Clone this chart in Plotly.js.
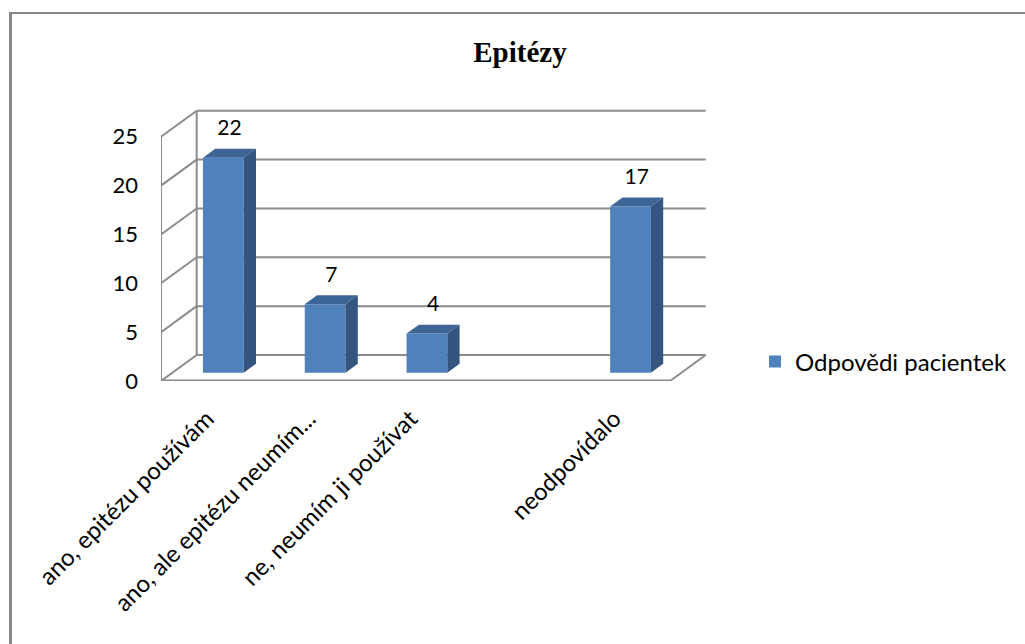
<!DOCTYPE html>
<html>
<head>
<meta charset="utf-8">
<script src="https://cdn.plot.ly/plotly-3.0.1.min.js"></script>
<style>
  html, body { margin: 0; padding: 0; background: #ffffff; }
  #chart { width: 1025px; height: 644px; }
</style>
</head>
<body>
<div id="chart"></div>
<script>
// ---- data ----
const categories = ["ano, epitézu používám", "ano, ale epitézu neumím...", "ne, neumím ji používat", "", "neodpovídalo"];
const responses = [22, 7, 4, null, 17];
const seriesName = "Odpovědi pacientek";
const yTicks = [0, 5, 10, 15, 20, 25];
const chartTitle = "Epitézy";

// ---- figure geometry (pixels) ----
const W = 1025, H = 644;
const plotLeft = 161, plotRight = 708, plotBottom = 381, plotTop = 105;
const pxPerCat = 101.8, pxPerUnit = 9.77;
const depthX = 35.7, depthY = 26;            // pseudo-3D depth of the walls
const ddx = depthX / pxPerCat, ddy = depthY / pxPerUnit;
const xMin = -0.5, xMax = xMin + (plotRight - plotLeft) / pxPerCat;
const yMax = (plotBottom - plotTop) / pxPerUnit;
const nCat = categories.length;
const yTop = yTicks[yTicks.length - 1];

// bar placement inside the depth of the floor
const barFront = 0.32, barBack = 0.665, barWidth = 0.4;
const colFront = "#4F81BD", colTop = "#3D6595", colSide = "#34557F";
const wallColor = "#8C8C8C";

const idx = categories.map((_, i) => i);
const baseFront = barFront * ddy;
const shiftFront = barFront * ddx;
const bdx = (barBack - barFront) * ddx, bdy = (barBack - barFront) * ddy;

// front faces
const frontTrace = {
  type: "bar",
  name: seriesName,
  x: idx.map(i => i + shiftFront),
  y: responses,
  base: responses.map(() => baseFront),
  width: barWidth,
  marker: { color: colFront, line: { width: 0 } },
  hoverinfo: "skip",
  showlegend: true
};

// top and side faces as filled polygons
const topX = [], topY = [], sideX = [], sideY = [];
responses.forEach((v, i) => {
  if (v === null) return;
  const x0 = i + shiftFront - barWidth / 2, x1 = i + shiftFront + barWidth / 2;
  const yt = baseFront + v;
  topX.push(x0, x1, x1 + bdx, x0 + bdx, x0, null);
  topY.push(yt, yt, yt + bdy, yt + bdy, yt, null);
  sideX.push(x1, x1 + bdx, x1 + bdx, x1, x1, null);
  sideY.push(baseFront, baseFront + bdy, yt + bdy, yt, baseFront, null);
});
const faceTrace = (xs, ys, col) => ({
  type: "scatter", mode: "lines", x: xs, y: ys,
  fill: "toself", fillcolor: col, line: { width: 0, color: col },
  hoverinfo: "skip", showlegend: false, connectgaps: false
});

// value labels above each column
const lblX = [], lblY = [], lblT = [];
responses.forEach((v, i) => {
  if (v === null) return;
  lblX.push(i + shiftFront + bdx / 2);
  lblY.push(baseFront + v + 28 / pxPerUnit);
  lblT.push(String(v));
});
const labelTrace = {
  type: "scatter", mode: "text", x: lblX, y: lblY, text: lblT,
  textposition: "middle center",
  textfont: { family: "Lato, sans-serif", size: 21, color: "#000000" },
  cliponaxis: false, hoverinfo: "skip", showlegend: false
};

// walls and floor
const shapes = [];
const seg = (x0, y0, x1, y1, w, c) => shapes.push({
  type: "line", xref: "x", yref: "y", x0, y0, x1, y1, layer: "below",
  line: { color: c || wallColor, width: w || 2 }
});
yTicks.forEach(v => {
  seg(xMin + ddx, v + ddy, xMin + nCat + ddx, v + ddy);   // back wall gridline
  seg(xMin, v, xMin + ddx, v + ddy);                        // side wall gridline
});
seg(xMin, 0, xMin, yTop);                                   // front left edge
seg(xMin + ddx, ddy, xMin + ddx, yTop + ddy);               // back left edge
seg(xMin + nCat, 0, xMin + nCat + ddx, ddy);                // floor right edge
seg(xMin, 0, xMin + nCat, 0, 3, "#8A8A8A");                 // floor front edge

// outer frame of the chart area
const frameColor = "#878787";
shapes.push({ type: "line", xref: "paper", yref: "paper",
  x0: 10.5 / W, x1: 10.5 / W, y0: -0.05, y1: 1 - 12 / H,
  line: { color: frameColor, width: 3 } });
shapes.push({ type: "line", xref: "paper", yref: "paper",
  x0: 9 / W, x1: 1.05, y0: 1 - 13 / H, y1: 1 - 13 / H,
  line: { color: frameColor, width: 2 } });

const layout = {
  width: W, height: H,
  margin: { l: 0, r: 0, t: 0, b: 0, pad: 0 },
  paper_bgcolor: "#ffffff", plot_bgcolor: "rgba(0,0,0,0)",
  showlegend: true,
  title: {
    text: chartTitle,
    font: { family: "Liberation Serif, serif", size: 29, color: "#000000", weight: "bold" },
    x: 520 / W, xanchor: "center", xref: "container",
    y: 1 - 52 / H, yanchor: "middle", yref: "container"
  },
  xaxis: {
    domain: [plotLeft / W, plotRight / W],
    range: [xMin, xMax],
    tickvals: idx, ticktext: categories,
    tickangle: -45,
    ticklabelstandoff: 18,
    ticklabelshift: -5,
    tickfont: { family: "Lato, sans-serif", size: 24, color: "#000000" },
    showgrid: false, zeroline: false, showline: false, ticks: "",
    fixedrange: true
  },
  yaxis: {
    domain: [1 - plotBottom / H, 1 - plotTop / H],
    range: [0, yMax],
    tickvals: yTicks,
    tickfont: { family: "Lato, sans-serif", size: 22, color: "#000000" },
    ticklabelstandoff: 22,
    showgrid: false, zeroline: false, showline: false, ticks: "",
    fixedrange: true
  },
  legend: {
    x: 755 / W, xanchor: "left",
    y: 1 - 362 / H, yanchor: "middle",
    font: { family: "Lato, sans-serif", size: 24, color: "#000000" },
    bgcolor: "rgba(0,0,0,0)"
  },
  shapes
};

Plotly.newPlot("chart",
  [frontTrace, faceTrace(topX, topY, colTop), faceTrace(sideX, sideY, colSide), labelTrace],
  layout, { staticPlot: true, displayModeBar: false });
</script>
</body>
</html>
